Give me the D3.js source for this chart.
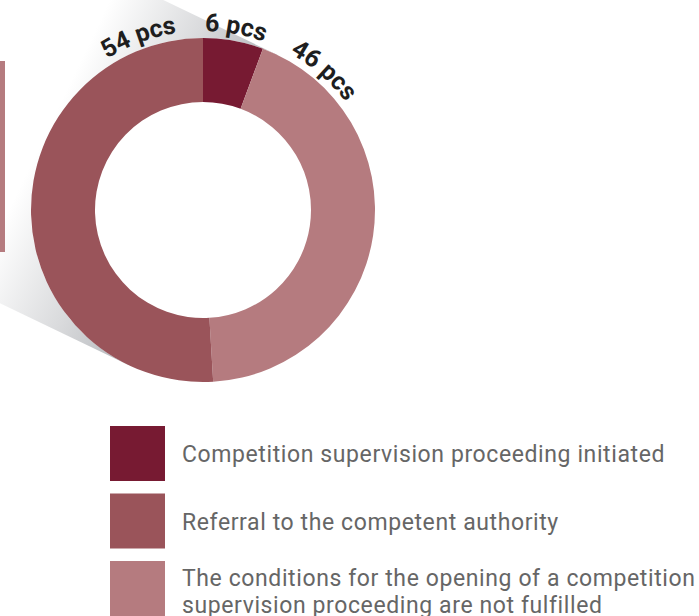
<!DOCTYPE html>
<html>
<head>
<meta charset="utf-8">
<script src="https://cdn.jsdelivr.net/npm/d3@7"></script>
<style>
  body { margin: 0; background: #fff; }
  svg { display: block; }
</style>
</head>
<body>
<div id="chart"></div>
<script>
// legend order
const categories = [
    "Competition supervision proceeding initiated",
    "Referral to the competent authority",
    "The conditions for the opening of a competition supervision proceeding are not fulfilled"
];
const values = [6, 54, 46];
const valueLabels = ["6 pcs", "54 pcs", "46 pcs"];
const colors = ["#771a32", "#9a545a", "#b57b7f"];
// clockwise order of the slices from 12 o'clock
const sliceOrder = [0, 2, 1];
// legend lines (long label wrapped as in the source)
const legendLines = [
    ["Competition supervision proceeding initiated"],
    ["Referral to the competent authority"],
    ["The conditions for the opening of a competition", "supervision proceeding are not fulfilled"]
];

function renderDonut(containerId = "#chart") {
    const width = 699, height = 616;
    const cx = 203, cy = 210;
    const outerR = 172, innerR = 108, labelR = 179;

    const svg = d3.select(containerId)
        .append("svg")
        .attr("width", width)
        .attr("height", height);

    const defs = svg.append("defs");

    // shadow band cast to the upper left
    const tilt = 25.7 * Math.PI / 180;
    const u = [-Math.cos(tilt), -Math.sin(tilt)];
    const n = [-u[1], u[0]];
    const t1 = [cx + outerR * n[0], cy + outerR * n[1]];
    const t2 = [cx - outerR * n[0], cy - outerR * n[1]];
    const far = 700;

    const grad = defs.append("linearGradient")
        .attr("id", "shadowGrad")
        .attr("gradientUnits", "userSpaceOnUse")
        .attr("x1", cx).attr("y1", cy)
        .attr("x2", cx + 175 * u[0]).attr("y2", cy + 175 * u[1]);
    grad.append("stop").attr("offset", 0).attr("stop-color", "#b3b6ba");
    grad.append("stop").attr("offset", 0.45).attr("stop-color", "#d9dadc");
    grad.append("stop").attr("offset", 1).attr("stop-color", "#ffffff");

    svg.append("path")
        .attr("d", d3.line()([
            t1,
            [t1[0] + far * u[0], t1[1] + far * u[1]],
            [t2[0] + far * u[0], t2[1] + far * u[1]],
            t2,
            [cx, cy]
        ]) + "Z")
        .attr("fill", "url(#shadowGrad)");

    // bar fragment at the left edge
    svg.append("rect")
        .attr("x", 0).attr("y", 61)
        .attr("width", 5).attr("height", 191)
        .attr("fill", colors[2]);

    const g = svg.append("g")
        .attr("transform", `translate(${cx},${cy})`);

    const pie = d3.pie().sort(null).value(i => values[i]);
    const arcs = pie(sliceOrder);
    const arc = d3.arc().innerRadius(innerR).outerRadius(outerR);

    g.append("circle").attr("r", outerR).attr("fill", "#fff");

    g.selectAll("path.slice")
        .data(arcs)
        .enter()
        .append("path")
        .attr("class", "slice")
        .attr("d", arc)
        .attr("fill", d => colors[d.data]);

    // circular path for curved labels, starts at bottom, runs clockwise
    const circ = `M0,${labelR} A${labelR},${labelR} 0 1,1 0,${-labelR} A${labelR},${labelR} 0 1,1 0,${labelR}`;
    defs.append("path").attr("id", "labelPath").attr("d", circ);

    const pad = 8.5 * Math.PI / 180;
    const norm = a => {
        while (a > Math.PI) a -= 2 * Math.PI;
        while (a < -Math.PI) a += 2 * Math.PI;
        return a;
    };
    const labelPos = arcs.map((d, k) => {
        if (k === 0) return { a: (d.startAngle + d.endAngle) / 2, anchor: "middle" };
        if (k === 1) return { a: d.startAngle + pad, anchor: "start" };
        return { a: d.endAngle - pad, anchor: "end" };
    });

    g.selectAll("text.val")
        .data(arcs)
        .enter()
        .append("text")
        .attr("class", "val")
        .style("font-family", "Roboto, 'Noto Sans', sans-serif")
        .style("font-weight", 700)
        .style("font-size", "25px")
        .attr("fill", "#1e1e1e")
        .append("textPath")
        .attr("href", "#labelPath")
        .attr("startOffset", (d, k) => (norm(labelPos[k].a) + Math.PI) * labelR)
        .attr("text-anchor", (d, k) => labelPos[k].anchor)
        .text(d => valueLabels[d.data]);

    // legend
    const legY = d3.scalePoint()
        .domain(categories)
        .range([426, 561]);

    const leg = svg.append("g").selectAll("g")
        .data(categories)
        .enter()
        .append("g")
        .attr("transform", d => `translate(0,${legY(d)})`);

    leg.append("rect")
        .attr("x", 110)
        .attr("width", 55)
        .attr("height", 55)
        .attr("fill", (d, i) => colors[i]);

    leg.append("text")
        .attr("x", 182)
        .attr("y", (d, i) => legendLines[i].length > 1 ? 25 : 36)
        .style("font-family", "Roboto, 'Noto Sans', sans-serif")
        .style("font-weight", 400)
        .style("font-size", "23px")
        .style("letter-spacing", "0.6px")
        .attr("fill", "#666666")
        .selectAll("tspan")
        .data((d, i) => legendLines[i])
        .enter()
        .append("tspan")
        .attr("x", 182)
        .attr("dy", (d, j) => j === 0 ? 0 : 27)
        .text(d => d);
}

renderDonut();
</script>
</body>
</html>
